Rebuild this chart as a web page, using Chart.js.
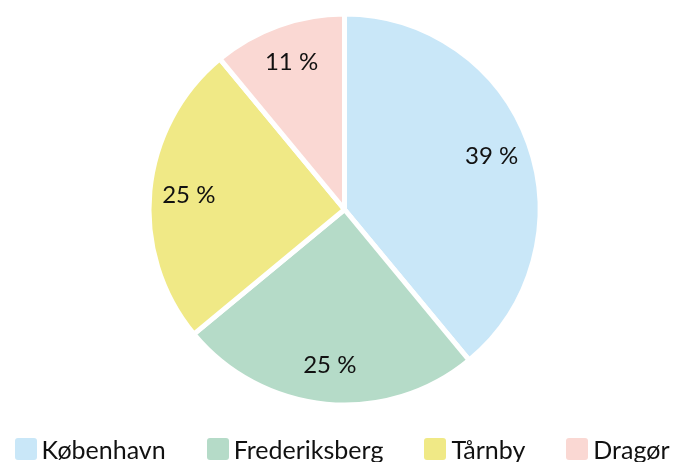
<!DOCTYPE html>
<html lang="da">
<head>
<meta charset="UTF-8">
<title>Fordeling</title>
<script src="https://cdn.jsdelivr.net/npm/chart.js@4.4.1/dist/chart.umd.min.js"></script>
<style>
  html, body { margin: 0; padding: 0; background: #fff; }
  #wrap { position: relative; width: 684px; height: 462px; overflow: hidden; }
  #pie { position: absolute; left: 0; top: 0; }
  #legend {
    position: absolute; left: 0; top: 436px; width: 684px;
    display: flex; justify-content: center; gap: 41px;
    font-family: Lato, sans-serif; font-size: 25px; color: #111;
  }
  #legend .item { display: flex; align-items: center; gap: 5px; line-height: 26px; white-space: nowrap; }
  #legend .box { width: 22px; height: 22px; border-radius: 3px; flex-shrink: 0; }
</style>
</head>
<body>
<div id="wrap">
  <canvas id="pie" width="684" height="462"></canvas>
  <div id="legend"></div>
</div>
<script>
const labels = ['København', 'Frederiksberg', 'Tårnby', 'Dragør'];
const shares = [39, 25, 25, 11];
const colors = ['#c9e7f8', '#b5dbc8', '#f0e986', '#fad8d3'];

// percent labels inside each slice
const sliceLabels = {
  id: 'sliceLabels',
  afterDatasetsDraw(chart) {
    const ctx = chart.ctx;
    const meta = chart.getDatasetMeta(0);
    ctx.save();
    ctx.font = '24px Lato, sans-serif';
    ctx.fillStyle = '#111';
    ctx.textAlign = 'center';
    ctx.textBaseline = 'middle';
    meta.data.forEach((arc, i) => {
      const mid = (arc.startAngle + arc.endAngle) / 2;
      const r = arc.outerRadius * 0.8;
      ctx.fillText(shares[i] + ' %', arc.x + Math.cos(mid) * r, arc.y + Math.sin(mid) * r);
    });
    ctx.restore();
  }
};

new Chart(document.getElementById('pie'), {
  type: 'pie',
  data: {
    labels: labels,
    datasets: [{
      data: shares,
      backgroundColor: colors,
      borderColor: '#fff',
      borderWidth: 5,
      hoverBorderWidth: 5
    }]
  },
  options: {
    responsive: false,
    animation: false,
    layout: { padding: { top: 11.5, bottom: 54.5, left: 5, right: 0 } },
    plugins: {
      legend: { display: false },
      tooltip: { enabled: false }
    }
  },
  plugins: [sliceLabels]
});

const legend = document.getElementById('legend');
labels.forEach((name, i) => {
  const item = document.createElement('div');
  item.className = 'item';
  item.innerHTML = '<span class="box" style="background:' + colors[i] + '"></span><span>' + name + '</span>';
  legend.appendChild(item);
});
</script>
</body>
</html>
